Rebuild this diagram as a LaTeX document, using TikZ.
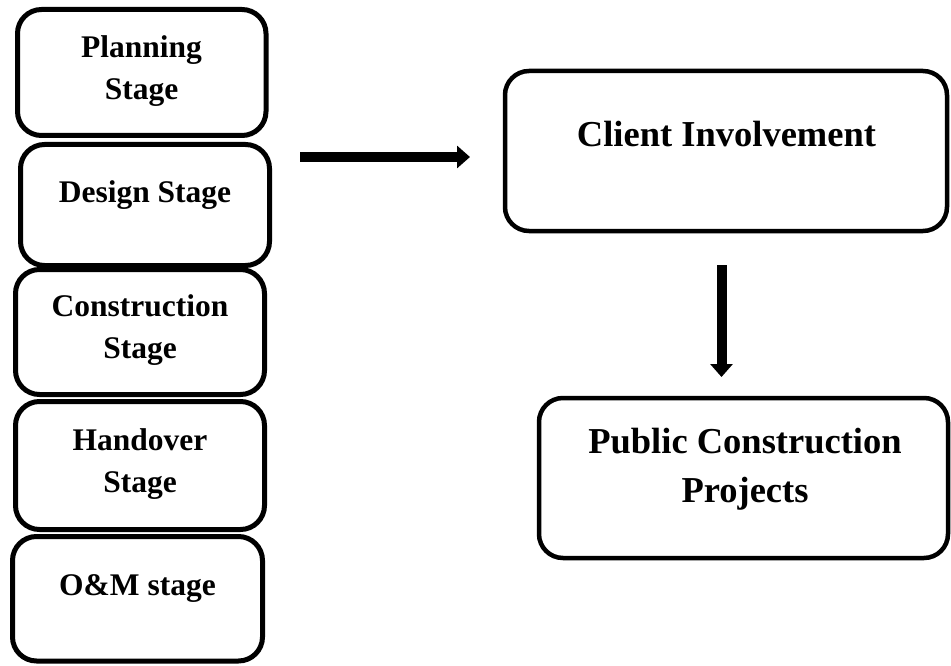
\documentclass[tikz,border=0pt]{standalone}
\usepackage{fontspec}
\setmainfont{Liberation Serif}
\usetikzlibrary{arrows.meta}

\tikzset{
  stagebox/.style={draw=black, line width=5pt, rounded corners=24pt,
    inner sep=0pt, outer sep=0pt},
  mainbox/.style={draw=black, line width=4.5pt, rounded corners=24pt,
    inner sep=0pt, outer sep=0pt},
  stagetext/.style={font=\fontsize{31.5}{42}\selectfont\bfseries,
    align=center, anchor=base, inner sep=0pt},
  maintext/.style={font=\fontsize{36.5}{49}\selectfont\bfseries,
    align=center, anchor=base, inner sep=0pt},
  flow/.style={line width=10pt,
    -{Triangle[length=13pt, width=22pt]}},
}

\begin{document}
\begin{tikzpicture}[x=1pt, y=-1pt]
  \useasboundingbox (0,0) rectangle (951,666);

  % project stages
  \node[stagebox, minimum width=248.5pt, minimum height=126pt] (plan)  at (141.75,72.5) {};
  \node[stagebox, minimum width=249pt,   minimum height=121pt] (design) at (145,205) {};
  \node[stagebox, minimum width=249pt,   minimum height=125pt] (constr) at (140,332) {};
  \node[stagebox, minimum width=249pt,   minimum height=128pt] (hand)  at (140,465.5) {};
  \node[stagebox, minimum width=250pt,   minimum height=124.5pt] (om)  at (137.5,598.75) {};

  % stage labels (base = baseline of the last line)
  \node[stagetext] (plantxt)   at (141.5,100) {Planning\\Stage};
  \node[stagetext] (designtxt) at (145,203)   {Design Stage};
  \node[stagetext] (constrtxt) at (140,358)   {Construction\\Stage};
  \node[stagetext] (handtxt)   at (140,492)   {Handover\\Stage};
  \node[stagetext] (omtxt)     at (137.5,595) {O\&M stage};

  % client and projects
  \node[mainbox, minimum width=442pt, minimum height=160pt] (client) at (726,151) {};
  \node[mainbox, minimum width=409pt, minimum height=160pt] (public) at (743.5,478) {};

  \node[maintext] (clienttxt) at (726.5,147) {Client Involvement};
  \node[maintext] (publictxt) at (745,502)   {Public Construction\\Projects};

  % connectors
  \coordinate (hstart) at (300,157);
  \coordinate (hend)   at (470,157);
  \coordinate (vstart) at (721.5,265);
  \coordinate (vend)   at (721.5,377);
  \draw[flow] (hstart) -- (hend);
  \draw[flow] (vstart) -- (vend);
\end{tikzpicture}
\end{document}
